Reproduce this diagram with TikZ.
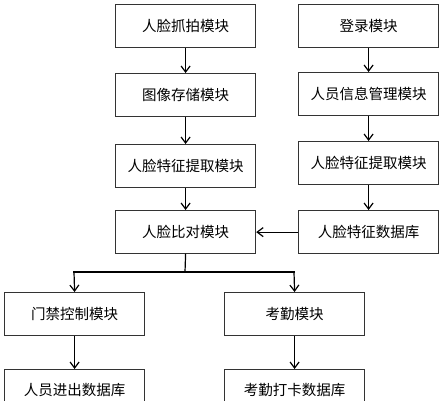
\documentclass[tikz,border=0pt]{standalone}
\usepackage{fontspec}
\newfontfamily\cjk{Noto Sans CJK SC}
\usetikzlibrary{arrows.meta,positioning}
\begin{document}
\begin{tikzpicture}[x=1pt,y=-1pt,
  box/.style={draw=black!80,line width=1.2pt,minimum width=140pt,minimum height=43pt,inner sep=0pt,font=\cjk\fontsize{14.5}{16}\selectfont,anchor=north west},
  wire/.style={line width=1.2pt,line cap=rect},
  arr/.style={line width=1.2pt,-{Straight Barb[length=6pt,width=9pt,line width=1.2pt]}}]
\useasboundingbox (0,0) rectangle (448,400);
\clip (0,0) rectangle (448,400);
\node[box] (a) at (115,4) {人脸抓拍模块};
\node[box] (b) at (115,73) {图像存储模块};
\node[box] (c) at (115,144) {人脸特征提取模块};
\node[box] (d) at (115,210) {人脸比对模块};
\node[box] (e) at (298,4) {登录模块};
\node[box] (f) at (298,72) {人员信息管理模块};
\node[box] (g) at (298,141) {人脸特征提取模块};
\node[box] (h) at (298,210) {人脸特征数据库};
\node[box] (i) at (4,292) {门禁控制模块};
\node[box] (j) at (224,292) {考勤模块};
\node[box,minimum height=40pt] (k) at (4,369) {\raisebox{-4pt}{人员进出数据库}};
\node[box,minimum height=40pt] (l) at (224,369) {\raisebox{-4pt}{考勤打卡数据库}};
\coordinate (split) at (185,272);
\coordinate (sl) at (74,272);
\coordinate (sr) at (294,272);
\draw[arr] (a) -- (b);
\draw[arr] (b) -- (c);
\draw[arr] (c) -- (d);
\draw[arr] (e) -- (f);
\draw[arr] (f) -- (g);
\draw[arr] (g) -- (h);
\draw[arr] (h) -- (d);
\draw[wire] (d.south) -- (split);
\draw[wire] (sl) -- (sr);
\draw[arr] (sl) -- (i.north);
\draw[arr] (sr) -- (j.north);
\draw[arr] (i) -- (k);
\draw[arr] (j) -- (l);
\end{tikzpicture}
\end{document}
